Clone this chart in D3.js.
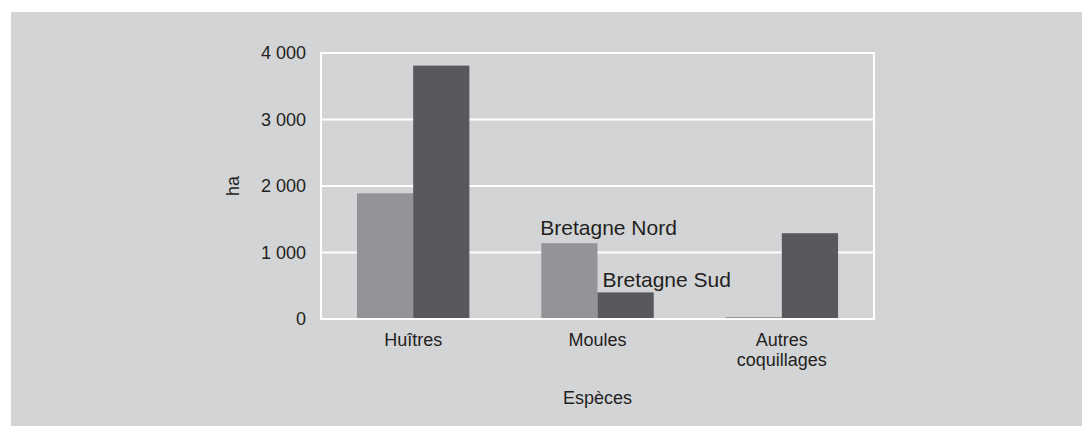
<!DOCTYPE html>
<html>
<head>
<meta charset="utf-8">
<script src="https://cdn.jsdelivr.net/npm/d3@7"></script>
<style>
  html, body { margin: 0; padding: 0; background: #fff; }
  text { font-family: "Liberation Sans", Arial, sans-serif; fill: #231f20; }
</style>
</head>
<body>
<div id="chart"></div>
<script>
// data
var categories = ["Huîtres", "Moules", "Autres coquillages"];
var seriesNames = ["Bretagne Nord", "Bretagne Sud"];
var nordValues = [1890, 1140, 30];
var sudValues = [3810, 400, 1290];
var yTicks = [0, 1000, 2000, 3000, 4000];

(function(){

  var width = 1082, height = 426;
  var margin = { top: 53, left: 321, right: 208, bottom: 107 };
  var plotW = width - margin.left - margin.right,
      plotH = height - margin.top - margin.bottom;

  var colors = ["#939498", "#58595d"];

  var svg = d3.select("#chart").append("svg")
    .attr("width", width)
    .attr("height", height);

  // grey panel
  svg.append("rect")
    .attr("x", 11).attr("y", 12)
    .attr("width", width - 11).attr("height", height - 12)
    .attr("fill", "#d3d4d6");

  var g = svg.append("g")
    .attr("transform", "translate(" + margin.left + "," + margin.top + ")");

  var x0 = d3.scaleBand()
    .domain(categories)
    .range([0, plotW])
    .paddingInner(0.39)
    .paddingOuter(0.195);

  var x1 = d3.scaleBand()
    .domain(seriesNames)
    .range([0, x0.bandwidth()]);

  var y = d3.scaleLinear()
    .domain([0, 4000])
    .range([plotH, 0]);

  // gridlines
  g.selectAll(".grid")
    .data(yTicks.slice(1, -1))
    .enter().append("line")
    .attr("x1", 0).attr("x2", plotW)
    .attr("y1", function(d){ return y(d); })
    .attr("y2", function(d){ return y(d); })
    .attr("stroke", "#fff")
    .attr("stroke-width", 2);

  // bars
  var rows = categories.map(function(c, i){
    return { cat: c, vals: [nordValues[i], sudValues[i]] };
  });

  var groups = g.selectAll(".grp")
    .data(rows)
    .enter().append("g")
    .attr("transform", function(d){ return "translate(" + x0(d.cat) + ",0)"; });

  groups.selectAll("rect")
    .data(function(d){ return d.vals.map(function(v, j){ return { s: seriesNames[j], v: v, j: j }; }); })
    .enter().append("rect")
    .attr("x", function(d){ return x1(d.s); })
    .attr("width", x1.bandwidth())
    .attr("y", function(d){ return y(d.v); })
    .attr("height", function(d){ return plotH - y(d.v); })
    .attr("fill", function(d){ return colors[d.j]; });

  // frame
  g.append("rect")
    .attr("x", 0).attr("y", 0)
    .attr("width", plotW).attr("height", plotH)
    .attr("fill", "none")
    .attr("stroke", "#fff")
    .attr("stroke-width", 2);

  // y axis labels
  var fmt = function(d){ return d3.format(",")(d).replace(/,/g, " "); };
  var yAxis = d3.axisLeft(y).tickValues(yTicks).tickSize(0).tickPadding(15).tickFormat(fmt);
  var ya = g.append("g").call(yAxis);
  ya.select(".domain").remove();
  ya.selectAll("text")
    .attr("font-size", "18px")
    .attr("font-family", null)
    .attr("fill", "#231f20");

  // x axis labels
  var xAxis = d3.axisBottom(x0).tickSize(0).tickPadding(0).tickFormat("");
  var xa = g.append("g").attr("transform", "translate(0," + plotH + ")").call(xAxis);
  xa.select(".domain").remove();
  xa.selectAll(".tick").each(function(d){
    var words = d === "Autres coquillages" ? ["Autres", "coquillages"] : [d];
    var t = d3.select(this).append("text")
      .attr("text-anchor", "middle")
      .attr("font-size", "18px");
    words.forEach(function(w, i){
      t.append("tspan").attr("x", 0).attr("y", 27 + i * 20).text(w);
    });
  });

  // axis titles
  svg.append("text")
    .attr("x", margin.left + plotW / 2)
    .attr("y", 404)
    .attr("text-anchor", "middle")
    .attr("font-size", "18px")
    .text("Espèces");

  svg.append("text")
    .attr("transform", "translate(239," + (margin.top + plotH / 2) + ") rotate(-90)")
    .attr("text-anchor", "middle")
    .attr("font-size", "18px")
    .text("ha");

  // series labels on Moules
  var mx = x0("Moules");
  g.append("text")
    .attr("x", mx + x1("Bretagne Nord") - 1)
    .attr("y", y(nordValues[1]) - 8)
    .attr("font-size", "21px")
    .text(seriesNames[0]);
  g.append("text")
    .attr("x", mx + x1("Bretagne Sud") + 5)
    .attr("y", y(sudValues[1]) - 5)
    .attr("font-size", "21px")
    .text(seriesNames[1]);

})();
</script>
</body>
</html>
